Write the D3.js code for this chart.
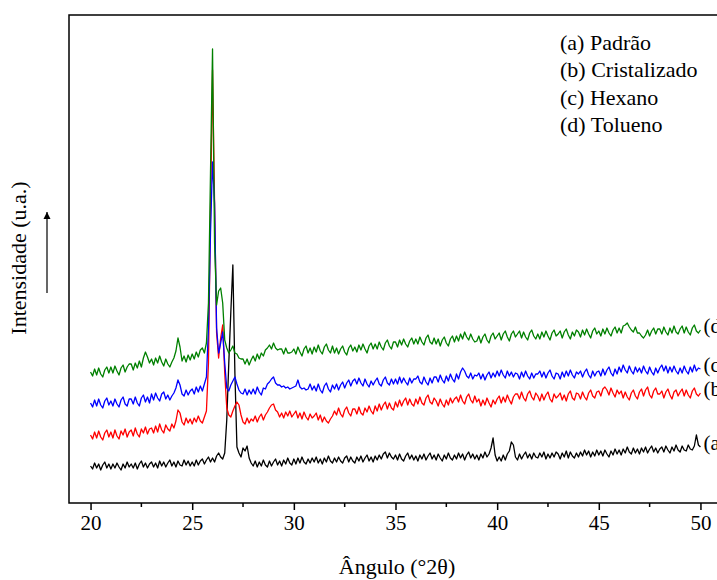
<!DOCTYPE html>
<html>
<head>
<meta charset="utf-8">
<script src="https://cdn.jsdelivr.net/npm/d3@7"></script>
<style>
  body { margin: 0; background: #fff; }
  svg { display: block; font-family: "Liberation Serif", "Times New Roman", serif; }
</style>
</head>
<body>
<div id="chart"></div>
<script>
// XRD patterns, sampled every 0.1 deg from 20 to 50 (2theta), intensity in a.u.
const angleStart = 20;
const angleStep = 0.1;
const xTicks = [20, 25, 30, 35, 40, 45, 50];
const xMinorTicks = [22.5, 27.5, 32.5, 37.5, 42.5, 47.5];

const seriesKeys = ['a', 'b', 'c', 'd'];
const seriesNames = ['(a) Padrão', '(b) Cristalizado', '(c) Hexano', '(d) Tolueno'];
const seriesColors = ['#000000', '#ff0000', '#0000ff', '#008000'];

const padrao = [
  37,34,40,35,39,33,38,41,35,39,
  34,39,35,40,36,33,39,35,41,36,
  39,35,40,34,39,42,36,40,35,39,
  41,36,40,35,42,37,41,36,40,43,
  37,41,36,42,38,37,43,38,42,37,
  41,37,43,38,42,44,39,43,46,41,
  45,41,47,50,46,44,50,83,140,191,
  238,130,56,50,46,55,52,57,45,40,
  37,42,36,41,37,43,38,36,42,37,
  41,44,38,42,37,43,39,45,40,38,
  44,39,45,40,46,41,39,44,40,45,
  41,46,40,44,39,45,41,47,42,40,
  45,41,46,42,40,45,47,41,46,42,
  40,46,42,47,41,45,48,42,46,41,
  47,43,48,44,49,51,45,50,46,44,
  48,43,49,44,42,47,50,44,48,43,
  47,42,48,44,49,43,47,50,44,48,
  43,49,45,42,48,44,50,45,43,48,
  44,50,45,49,43,48,51,45,49,44,
  48,43,49,45,51,46,49,55,65,48,
  42,46,42,48,43,49,52,61,58,46,
  43,49,44,48,51,45,49,44,50,46,
  45,50,46,51,44,49,45,50,46,51,
  49,44,50,46,52,45,51,47,45,50,
  46,51,47,53,48,52,46,51,47,53,
  48,52,47,53,49,46,52,48,54,49,
  53,48,54,50,56,51,49,55,50,54,
  49,55,51,56,50,54,57,51,55,50,
  54,56,51,57,53,50,56,52,58,53,
  51,57,53,52,58,54,53,57,68,58,
  56
];

const cristalizado = [
  68,64,71,65,72,66,63,70,73,66,
  71,65,73,67,64,72,68,74,66,71,
  73,67,75,69,66,74,70,76,69,74,
  75,70,77,71,79,73,70,78,74,72,
  79,75,82,93,90,81,78,85,80,84,
  79,85,81,87,82,80,86,92,140,290,
  433,300,170,145,165,178,130,95,88,86,
  92,97,101,98,88,81,79,85,80,84,
  82,87,81,86,89,83,88,91,95,98,
  99,93,91,86,90,85,91,87,92,86,
  89,92,85,90,84,91,86,83,89,85,
  87,90,83,88,81,86,82,80,84,87,
  92,88,95,89,86,93,96,90,87,94,
  94,89,96,90,88,95,91,97,92,89,
  97,92,99,93,98,101,94,100,95,93,
  101,96,103,97,102,105,98,104,99,97,
  104,99,106,100,98,105,108,101,99,105,
  102,97,104,99,96,103,98,105,100,104,
  106,101,108,102,99,106,109,103,100,107,
  101,104,97,103,98,105,100,96,103,99,
  104,107,100,106,101,108,103,99,106,109,
  109,104,111,105,102,109,112,106,103,110,
  107,102,109,103,108,111,104,101,109,105,
  107,110,103,108,102,109,112,105,103,110,
  109,104,111,106,103,110,113,107,105,111,
  112,107,114,116,113,108,115,110,106,113,
  109,112,105,111,106,103,110,113,107,104,
  111,114,107,113,116,108,105,112,115,109,
  109,112,105,111,114,108,104,111,113,107,
  111,114,107,113,108,105,112,115,109,107,
  110
];

const hexano = [
  100,96,103,97,104,98,95,102,105,98,
  102,97,104,99,96,103,106,99,97,104,
  104,99,106,100,97,105,108,101,106,100,
  109,103,110,105,102,109,111,104,108,103,
  107,110,115,123,118,109,107,113,108,112,
  114,109,116,111,117,112,119,126,175,270,
  341,300,175,150,160,171,140,115,112,118,
  122,126,119,113,110,109,114,108,113,109,
  114,109,116,111,108,115,114,119,121,124,
  126,120,118,118,116,117,115,116,114,115,
  116,117,123,116,114,115,113,114,119,113,
  117,112,119,113,110,117,120,114,111,118,
  114,119,113,118,121,115,120,123,117,122,
  124,119,125,120,117,124,119,116,122,118,
  122,125,119,117,123,126,120,118,124,119,
  124,119,126,120,125,121,118,125,120,124,
  124,127,121,119,126,121,118,125,120,126,
  126,121,128,123,120,127,122,129,124,121,
  129,124,131,135,132,127,125,130,124,128,
  127,130,124,129,123,128,131,125,130,126,
  132,127,133,128,125,132,127,131,126,130,
  129,124,131,126,132,127,124,130,125,129,
  129,132,126,131,125,130,133,127,124,130,
  129,124,131,126,132,127,133,128,125,131,
  129,132,126,131,134,128,125,132,127,131,
  132,127,134,128,133,136,130,127,134,129,
  136,131,138,133,130,137,132,129,136,131,
  135,130,137,132,129,136,131,128,135,130,
  135,138,132,137,130,136,131,137,132,129,
  135,130,137,132,129,136,131,138,132,135,
  134
];

const tolueno = [
  131,127,134,128,135,129,126,133,136,130,
  136,130,137,132,128,135,138,131,136,139,
  139,133,140,135,142,136,145,151,146,140,
  144,138,145,140,147,141,137,144,139,136,
  141,145,152,165,156,142,147,141,148,143,
  149,144,151,146,153,155,150,160,200,330,
  454,260,198,212,215,200,163,155,150,153,
  157,150,149,145,144,144,139,144,138,143,
  147,142,149,144,150,147,153,155,158,154,
  160,155,153,154,154,149,155,150,150,151,
  154,149,156,151,147,154,157,150,155,149,
  156,151,158,152,149,156,159,153,150,157,
  150,155,149,154,157,151,148,155,158,152,
  156,151,158,153,159,154,150,157,160,154,
  159,154,161,156,153,160,163,157,154,161,
  161,156,163,158,164,159,156,162,165,159,
  164,159,166,161,158,165,168,161,159,165,
  159,164,157,163,166,160,157,164,167,161,
  167,162,169,164,171,166,163,169,164,161,
  162,167,160,166,169,163,160,167,170,164,
  167,170,163,169,172,166,162,169,172,166,
  169,172,165,171,166,163,170,173,167,164,
  169,164,171,166,172,167,163,170,173,167,
  169,172,165,171,174,168,164,171,167,173,
  171,166,173,168,174,169,165,172,175,169,
  172,167,174,169,175,170,167,173,176,170,
  175,170,177,178,180,176,173,171,176,170,
  170,167,165,168,173,167,172,175,169,174,
  174,169,176,171,168,175,170,177,171,169,
  174,177,170,176,171,168,175,178,172,170,
  173
];

const seriesValues = [padrao, cristalizado, hexano, tolueno];

class XrdChart {
  constructor(_config) {
    this.config = {
      parentElement: _config.parentElement,
      containerWidth: _config.containerWidth || 717,
      containerHeight: _config.containerHeight || 580,
      margin: _config.margin || {top: 15, right: -5, bottom: 77, left: 69},
      fontSize: _config.fontSize || 22
    };
    this.initVis();
  }

  initVis() {
    let vis = this;
    const c = vis.config;

    vis.svg = d3.select(c.parentElement).append('svg')
      .attr('width', c.containerWidth)
      .attr('height', c.containerHeight);

    vis.width = c.containerWidth - c.margin.left - c.margin.right;
    vis.height = c.containerHeight - c.margin.top - c.margin.bottom;

    vis.xScale = d3.scaleLinear().domain([18.94, 51.06]).range([0, vis.width]);
    vis.yScale = d3.scaleLinear().domain([0, 488]).range([vis.height, 0]);

    vis.chart = vis.svg.append('g')
      .attr('transform', `translate(${c.margin.left},${c.margin.top})`);

    vis.data = seriesKeys.map((k, i) => ({
      key: k,
      name: seriesNames[i],
      color: seriesColors[i],
      values: seriesValues[i].map((v, j) => ({x: angleStart + j * angleStep, y: v}))
    }));

    vis.renderVis();
  }

  renderVis() {
    let vis = this;
    const c = vis.config;

    const line = d3.line()
      .x(d => vis.xScale(d.x))
      .y(d => vis.yScale(d.y));

    vis.chart.selectAll('.trace')
      .data(vis.data)
      .join('path')
        .attr('class', 'trace')
        .attr('fill', 'none')
        .attr('stroke', d => d.color)
        .attr('stroke-width', 1.3)
        .attr('stroke-linejoin', 'round')
        .attr('d', d => line(d.values));

    // short labels at the end of each trace (cut by the page edge, as in the original)
    vis.chart.selectAll('.end-label')
      .data(vis.data)
      .join('text')
        .attr('class', 'end-label')
        .attr('x', d => vis.xScale(50) + 3)
        .attr('y', d => vis.yScale(d.values[d.values.length - 1].y) + 3)
        .attr('font-size', c.fontSize - 1)
        .text(d => `(${d.key})`);

    // frame
    vis.chart.append('rect')
      .attr('width', vis.width)
      .attr('height', vis.height)
      .attr('fill', 'none')
      .attr('stroke', '#000')
      .attr('stroke-width', 1.5);

    // x axis
    const xAxisG = vis.chart.append('g')
      .attr('transform', `translate(0,${vis.height})`)
      .call(d3.axisBottom(vis.xScale).tickValues(xTicks).tickSize(7).tickSizeOuter(0).tickPadding(5));
    xAxisG.select('.domain').remove();
    xAxisG.selectAll('.tick line').attr('stroke-width', 1.5);
    xAxisG.selectAll('.tick text')
      .attr('font-family', '"Liberation Serif", "Times New Roman", serif')
      .attr('font-size', c.fontSize - 1)
      .attr('fill', '#000');

    vis.chart.append('g')
      .attr('transform', `translate(0,${vis.height})`)
      .selectAll('line')
      .data(xMinorTicks)
      .join('line')
        .attr('x1', d => vis.xScale(d))
        .attr('x2', d => vis.xScale(d))
        .attr('y1', 0)
        .attr('y2', 4)
        .attr('stroke', '#000')
        .attr('stroke-width', 1.5);

    vis.svg.append('text')
      .attr('x', 397)
      .attr('y', 574)
      .attr('text-anchor', 'middle')
      .attr('font-size', c.fontSize)
      .text('Ângulo (°2θ)');

    // y title with arrow
    vis.svg.append('text')
      .attr('transform', 'translate(26,258) rotate(-90)')
      .attr('text-anchor', 'middle')
      .attr('font-size', c.fontSize)
      .text('Intensidade (u.a.)');

    vis.svg.append('defs').append('marker')
      .attr('id', 'arrowhead')
      .attr('viewBox', '0 0 10 10')
      .attr('refX', 10).attr('refY', 5)
      .attr('markerWidth', 7).attr('markerHeight', 13)
      .attr('markerUnits', 'userSpaceOnUse')
      .attr('orient', 'auto')
      .append('path')
        .attr('d', 'M0,0L10,5L0,10z')
        .attr('fill', '#000');

    vis.svg.append('line')
      .attr('x1', 47).attr('y1', 293)
      .attr('x2', 47).attr('y2', 212)
      .attr('stroke', '#000')
      .attr('stroke-width', 1.2)
      .attr('marker-end', 'url(#arrowhead)');

    // legend (text only)
    vis.svg.append('g')
      .selectAll('text')
      .data(vis.data)
      .join('text')
        .attr('x', 560)
        .attr('y', (d, i) => 50 + i * 27.3)
        .attr('font-size', c.fontSize)
        .text(d => d.name);
  }
}

new XrdChart({parentElement: '#chart'});
</script>
</body>
</html>
